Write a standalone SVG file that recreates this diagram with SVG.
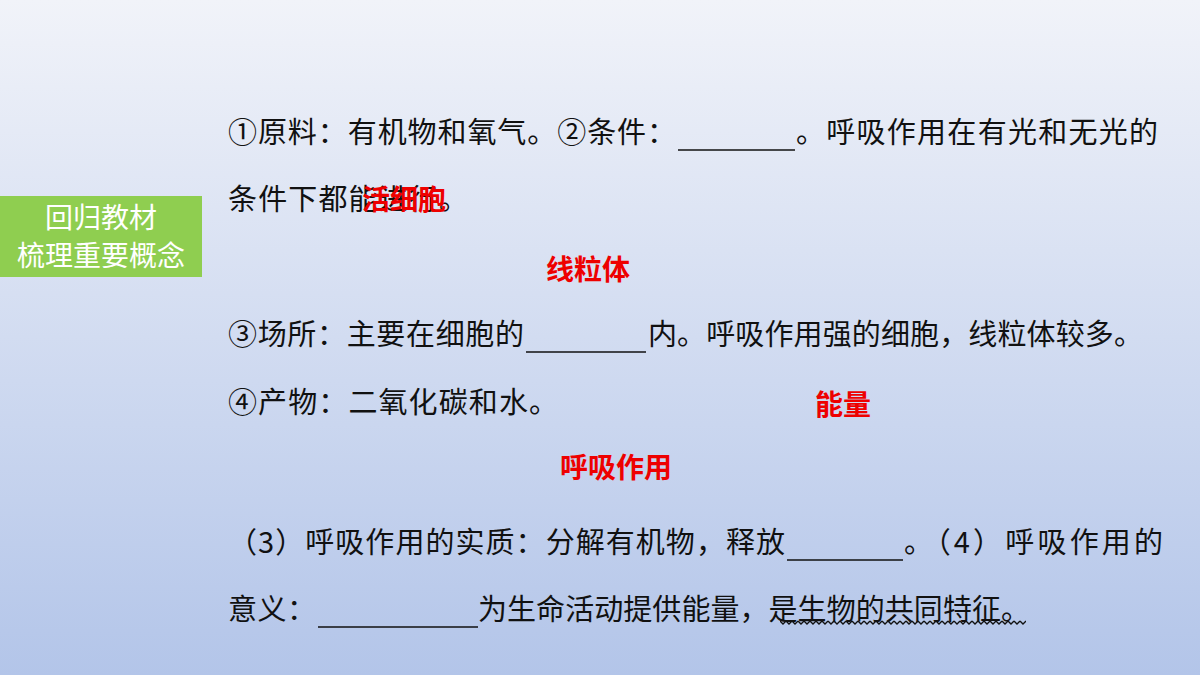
<svg xmlns="http://www.w3.org/2000/svg" width="1200" height="675" viewBox="0 0 1200 675">
<defs>
<linearGradient id="bg" x1="0" y1="0" x2="0" y2="1">
<stop offset="0" stop-color="#f1f3f9"/>
<stop offset="1" stop-color="#b3c5e9"/>
</linearGradient>
<pattern id="wave" x="0" y="0" width="6" height="5" patternUnits="userSpaceOnUse">
<path d="M0 1 L3 4 L6 1" fill="none" stroke="#111" stroke-width="1.3"/>
</pattern>
</defs>
<style>
.t{font-family:"Noto Sans CJK SC","Liberation Sans",sans-serif;font-size:29px;fill:#111}
.r{font-family:"Noto Sans CJK SC","Liberation Sans",sans-serif;font-size:28px;font-weight:bold;fill:#ee0000}
.u{stroke:#111;stroke-width:1.3}
.w{font-family:"Noto Sans CJK SC",sans-serif;font-size:28px;fill:#fff}
</style>
<rect width="1200" height="675" fill="url(#bg)"/>
<g id="label">
<rect x="0" y="196" width="202" height="81" fill="#8fce50"/>
<text class="w" x="101" y="228" text-anchor="middle">回归教材</text>
<text class="w" x="101" y="266" text-anchor="middle">梳理重要概念</text>
</g>
<g id="body">
<text class="t" x="228" y="143" textLength="448" lengthAdjust="spacing">①原料：有机物和氧气。②条件：</text>
<line class="u" x1="678" y1="150" x2="795" y2="150"/>
<text class="t" x="796" y="143" textLength="362" lengthAdjust="spacing">。呼吸作用在有光和无光的</text>
<text class="t" x="228" y="210" textLength="240" lengthAdjust="spacing">条件下都能进行。</text>
<text class="t" x="228" y="345" textLength="296" lengthAdjust="spacing">③场所：主要在细胞的</text>
<line class="u" x1="526" y1="352" x2="646" y2="352"/>
<text class="t" x="648" y="345" textLength="495" lengthAdjust="spacing">内。呼吸作用强的细胞，线粒体较多。</text>
<text class="t" x="228" y="413" textLength="330" lengthAdjust="spacing">④产物：二氧化碳和水。</text>
<text class="t" x="228" y="553" textLength="557" lengthAdjust="spacing">（3）呼吸作用的实质：分解有机物，释放</text>
<line class="u" x1="787" y1="560" x2="903" y2="560"/>
<text class="t" x="904" y="553" textLength="259" lengthAdjust="spacing">。（4）呼吸作用的</text>
<text class="t" x="228" y="620" textLength="88" lengthAdjust="spacing">意义：</text>
<line class="u" x1="318" y1="627" x2="478" y2="627"/>
<text class="t" x="478" y="620" textLength="552" lengthAdjust="spacing">为生命活动提供能量，是生物的共同特征。</text>
<rect x="780" y="620" width="246" height="5" fill="url(#wave)"/>
</g>
<g id="answers">
<text class="r" x="362" y="210">活细胞</text>
<text class="r" x="546" y="280">线粒体</text>
<text class="r" x="815" y="415">能量</text>
<text class="r" x="560" y="478">呼吸作用</text>
</g>
</svg>
